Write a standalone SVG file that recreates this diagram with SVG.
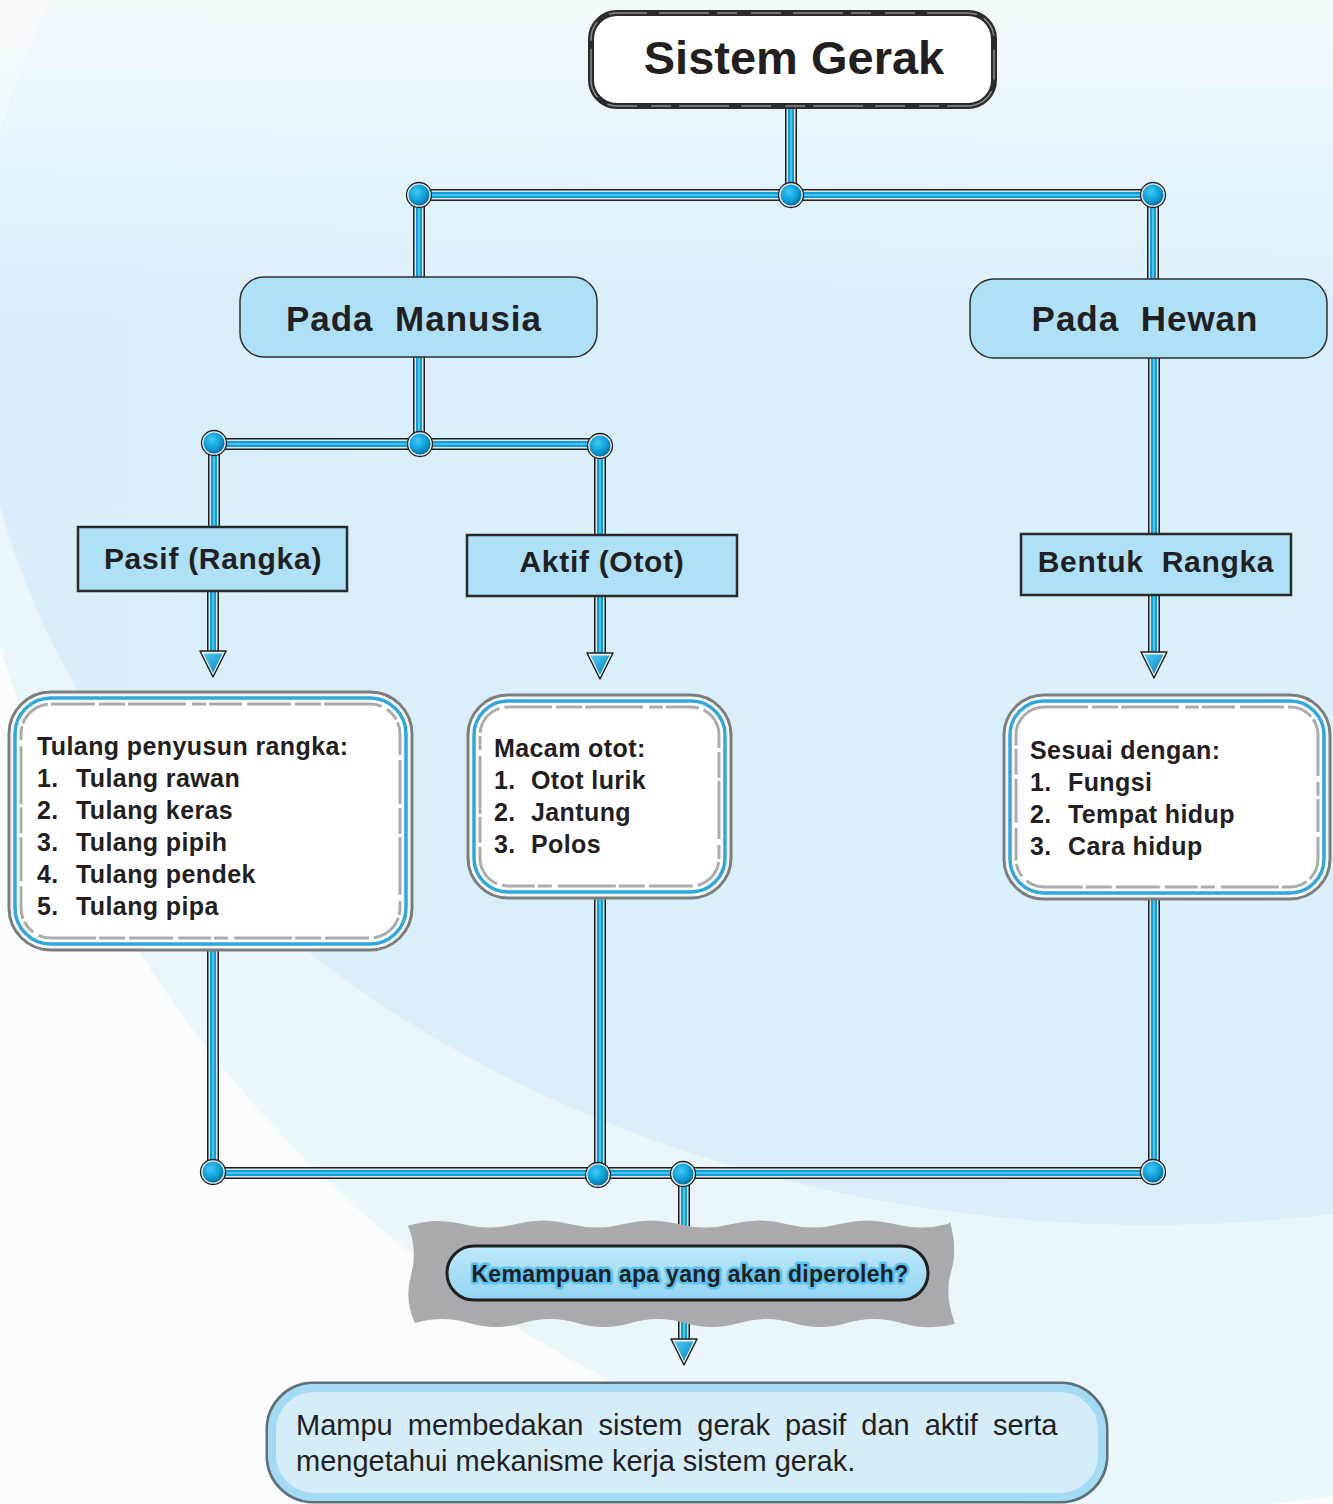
<svg xmlns="http://www.w3.org/2000/svg" xmlns:xlink="http://www.w3.org/1999/xlink" width="1333" height="1504" viewBox="0 0 1333 1504">
  <defs>
    <style>
      text { font-family: 'Liberation Sans', Arial, sans-serif; fill: #231f20; white-space: pre; }
      .title { font-size: 47px; font-weight: bold; text-anchor: middle; }
      .h1 { font-size: 35px; font-weight: bold; text-anchor: middle; letter-spacing: 1px; }
      .h2 { font-size: 30px; font-weight: bold; text-anchor: middle; letter-spacing: 0.7px; }
      .li { font-size: 25px; font-weight: bold; letter-spacing: 0.4px; }
      .glow { font-size: 23px; font-weight: bold; text-anchor: middle; letter-spacing: 0.3px; stroke: #5cc4f0; stroke-width: 5px; stroke-linejoin: round; paint-order: stroke; }
      .body { font-size: 29px; word-spacing: 7px; }
      .w0 { fill: none; stroke: #1e1e1e; stroke-width: 12; }
      .w1 { fill: none; stroke: #e4e4e4; stroke-width: 9; }
      .w2 { fill: none; stroke: #0a9fd9; stroke-width: 6; }
      .w3 { fill: none; stroke: #5fd0f6; stroke-width: 1.5; }
      .pill { fill: #aee1f8; stroke: #2e2e2e; stroke-width: 1.5; }
      .tag { fill: #aee1f8; stroke: #2a2a2a; stroke-width: 2.5; }
      .card-out { fill: #ffffff; stroke: #7d7d7d; stroke-width: 3; }
      .card-rim { fill: none; stroke: #f4f4f4; stroke-width: 2; }
      .card-blue { fill: none; stroke: #2fa8de; stroke-width: 3.5; }
      .card-dash { fill: none; stroke: #acacac; stroke-width: 3; stroke-dasharray: 44 4 26 3 58 6 14 3 33 5; }
    </style>
    <radialGradient id="ballFill" cx="0.4" cy="0.35" r="0.7">
      <stop offset="0" stop-color="#44c9f6"/>
      <stop offset="0.6" stop-color="#0a9fd9"/>
      <stop offset="1" stop-color="#05679a"/>
    </radialGradient>
    <linearGradient id="headFill" x1="0" y1="0" x2="1" y2="1">
      <stop offset="0" stop-color="#4fcaf5"/>
      <stop offset="1" stop-color="#0787c4"/>
    </linearGradient>
    <linearGradient id="bgBlob" x1="0" y1="0" x2="1" y2="0">
      <stop offset="0" stop-color="#d9eef9"/>
      <stop offset="0.8" stop-color="#dcf0fa"/>
      <stop offset="1" stop-color="#f6fbfe"/>
    </linearGradient>
    <linearGradient id="topFade" x1="0" y1="0" x2="0" y2="1">
      <stop offset="0" stop-color="#f8fcfe" stop-opacity="0.8"/>
      <stop offset="1" stop-color="#f8fcfe" stop-opacity="0"/>
    </linearGradient>
    <linearGradient id="askFill" x1="0" y1="0" x2="0" y2="1">
      <stop offset="0" stop-color="#bfe8fa"/>
      <stop offset="1" stop-color="#92d4f3"/>
    </linearGradient>
    <g id="ball">
      <circle r="12.5" fill="#e8e8e8" stroke="#222" stroke-width="1.3"/>
      <circle r="10.5" fill="url(#ballFill)"/>
    </g>
    <g id="head">
      <path d="M-13,-26 L13,-26 L0,0 Z" fill="#f2f2f2" stroke="#222" stroke-width="1.5" stroke-linejoin="round"/>
      <path d="M-9.5,-23.5 L9.5,-23.5 L0,-4 Z" fill="url(#headFill)"/>
    </g>
    <path id="wires" d="M791,107 V195 M419,195 H1153 M419,195 V277 M1153,195 V279
      M419,357 V444 M214,444 H600 M214,444 V527 M600,444 V535
      M1154,358 V534
      M213,591 V655 M600,596 V656 M1154,595 V655
      M213,950 V1172 M600,898 V1173 M1154,900 V1172 M213,1173 H1153
      M684,1173 V1342"/>
  </defs>

  <!-- soft background washes -->
  <g id="background">
    <rect width="1333" height="1504" fill="#fafcfe"/>
    <ellipse cx="1150" cy="300" rx="1200" ry="1210" fill="#ebf6fb"/>
    <ellipse cx="1150" cy="320" rx="1175" ry="905" fill="url(#bgBlob)"/>
    <rect width="1333" height="320" fill="url(#topFade)"/>
  </g>

  <!-- pipe connectors, joints and arrowheads -->
  <g id="connectors">
    <use xlink:href="#wires" class="w0"/>
    <use xlink:href="#wires" class="w1"/>
    <use xlink:href="#wires" class="w2"/>
    <use xlink:href="#wires" class="w3"/>
    <use xlink:href="#ball" x="419" y="195"/>
    <use xlink:href="#ball" x="791" y="195"/>
    <use xlink:href="#ball" x="1153" y="195"/>
    <use xlink:href="#ball" x="214" y="443"/>
    <use xlink:href="#ball" x="420" y="444"/>
    <use xlink:href="#ball" x="600" y="446"/>
    <use xlink:href="#ball" x="213" y="1172"/>
    <use xlink:href="#ball" x="598" y="1175"/>
    <use xlink:href="#ball" x="683" y="1174"/>
    <use xlink:href="#ball" x="1153" y="1172"/>
    <use xlink:href="#head" x="213" y="677"/>
    <use xlink:href="#head" x="600" y="679"/>
    <use xlink:href="#head" x="1154" y="678"/>
    <use xlink:href="#head" x="684" y="1365"/>
  </g>

  <g id="node-sistem-gerak">
    <rect x="591" y="13" width="403" height="93" rx="26" fill="#ffffff" stroke="#2b2b2b" stroke-width="6"/>
    <rect x="591" y="13" width="403" height="93" rx="26" fill="none" stroke="#8a8a8a" stroke-width="1.5" stroke-dasharray="30 12 50 8 20 14"/>
    <text class="title" x="794" y="74">Sistem Gerak</text>
  </g>

  <g id="node-pada-manusia">
    <rect class="pill" x="240" y="277" width="357" height="80" rx="24"/>
    <text class="h1" x="414" y="331">Pada  Manusia</text>
  </g>

  <g id="node-pada-hewan">
    <rect class="pill" x="970" y="279" width="357" height="79" rx="24"/>
    <text class="h1" x="1145" y="331">Pada  Hewan</text>
  </g>

  <g id="node-pasif">
    <rect class="tag" x="78" y="527" width="269" height="64"/>
    <text class="h2" x="213" y="569">Pasif (Rangka)</text>
  </g>

  <g id="node-aktif">
    <rect class="tag" x="467" y="535" width="270" height="61"/>
    <text class="h2" x="602" y="572">Aktif (Otot)</text>
  </g>

  <g id="node-bentuk-rangka">
    <rect class="tag" x="1021" y="534" width="270" height="61"/>
    <text class="h2" x="1156" y="572">Bentuk  Rangka</text>
  </g>

  <g id="node-tulang">
    <rect class="card-out" x="9" y="692" width="403" height="258" rx="42"/>
    <rect class="card-rim" x="12" y="695" width="397" height="252" rx="39"/>
    <rect class="card-blue" x="15" y="698" width="391" height="246" rx="36"/>
    <rect class="card-dash" x="21" y="704" width="379" height="234" rx="30"/>
    <text class="li" x="37" y="755">Tulang penyusun rangka:</text>
    <text class="li" x="37" y="787">1.</text><text class="li" x="76" y="787">Tulang rawan</text>
    <text class="li" x="37" y="819">2.</text><text class="li" x="76" y="819">Tulang keras</text>
    <text class="li" x="37" y="851">3.</text><text class="li" x="76" y="851">Tulang pipih</text>
    <text class="li" x="37" y="883">4.</text><text class="li" x="76" y="883">Tulang pendek</text>
    <text class="li" x="37" y="915">5.</text><text class="li" x="76" y="915">Tulang pipa</text>
  </g>

  <g id="node-otot">
    <rect class="card-out" x="468" y="695" width="263" height="203" rx="40"/>
    <rect class="card-rim" x="471" y="698" width="257" height="197" rx="37"/>
    <rect class="card-blue" x="474" y="701" width="251" height="191" rx="34"/>
    <rect class="card-dash" x="480" y="707" width="239" height="179" rx="28"/>
    <text class="li" x="494" y="757">Macam otot:</text>
    <text class="li" x="494" y="789">1.</text><text class="li" x="531" y="789">Otot lurik</text>
    <text class="li" x="494" y="821">2.</text><text class="li" x="531" y="821">Jantung</text>
    <text class="li" x="494" y="853">3.</text><text class="li" x="531" y="853">Polos</text>
  </g>

  <g id="node-sesuai">
    <rect class="card-out" x="1004" y="695" width="326" height="204" rx="40"/>
    <rect class="card-rim" x="1007" y="698" width="320" height="198" rx="37"/>
    <rect class="card-blue" x="1010" y="701" width="314" height="192" rx="34"/>
    <rect class="card-dash" x="1016" y="707" width="302" height="180" rx="28"/>
    <text class="li" x="1030" y="759">Sesuai dengan:</text>
    <text class="li" x="1030" y="791">1.</text><text class="li" x="1068" y="791">Fungsi</text>
    <text class="li" x="1030" y="823">2.</text><text class="li" x="1068" y="823">Tempat hidup</text>
    <text class="li" x="1030" y="855">3.</text><text class="li" x="1068" y="855">Cara hidup</text>
  </g>

  <g id="node-pertanyaan">
    <path d="M408,1226 Q435,1217 462,1224 T516,1224 T570,1224 T624,1224 T678,1224 T732,1224 T786,1224 T840,1224 T894,1224 T948,1224
             L950,1222 Q958,1250 951,1272 T955,1324
             Q928,1331 901,1323 T847,1323 T793,1323 T739,1323 T685,1323 T631,1323 T577,1323 T523,1323 T469,1323 T415,1323
             Q404,1300 411,1275 T408,1226 Z" fill="#a9aaad"/>
    <rect x="447" y="1246" width="481" height="54" rx="27" fill="url(#askFill)" stroke="#1f1f1f" stroke-width="3"/>
    <text class="glow" x="690" y="1282">Kemampuan apa yang akan diperoleh?</text>
  </g>

  <g id="node-tujuan">
    <rect x="267" y="1383" width="840" height="119" rx="46" fill="#d5edf9" stroke="#5f6f78" stroke-width="3"/>
    <rect x="272" y="1388" width="830" height="109" rx="42" fill="none" stroke="#a3dbf4" stroke-width="8"/>
    <text class="body" x="296" y="1435">Mampu membedakan sistem gerak pasif dan aktif serta</text>
    <text class="body" x="296" y="1471" style="word-spacing:0">mengetahui mekanisme kerja sistem gerak.</text>
  </g>
</svg>
